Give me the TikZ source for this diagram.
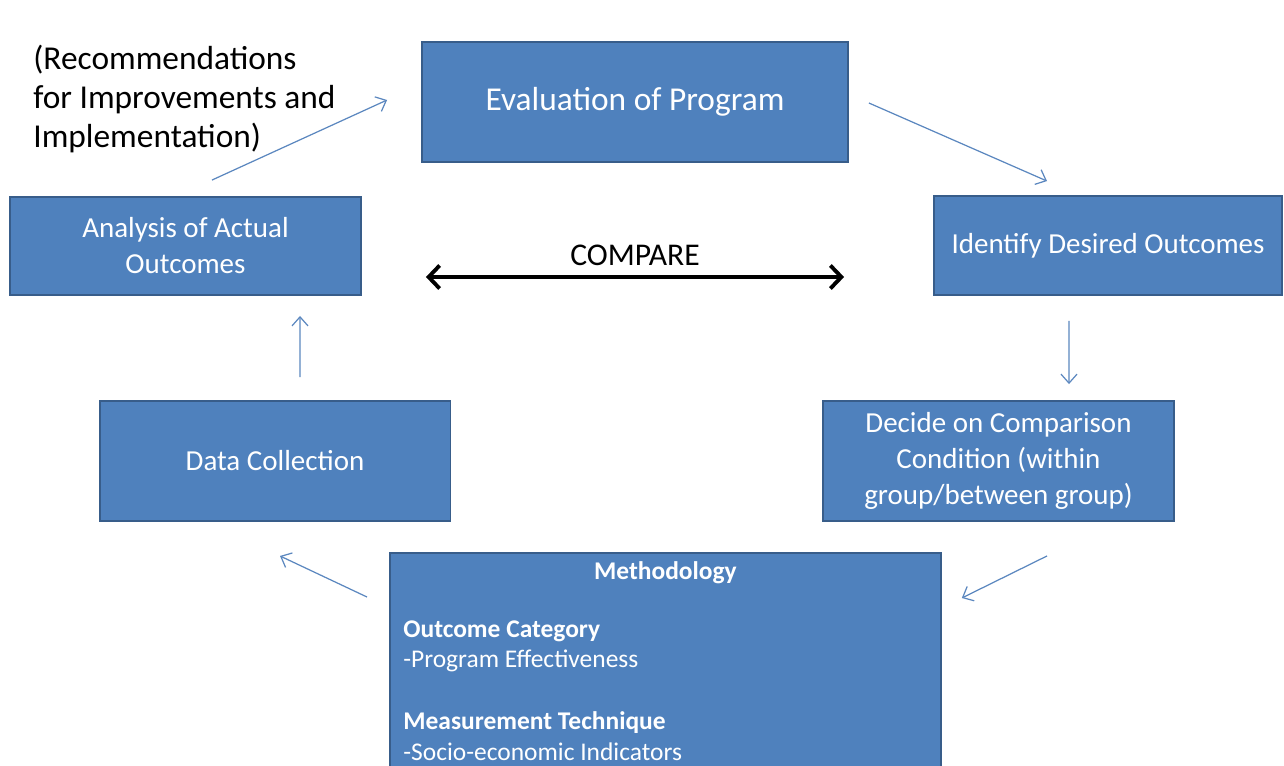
\documentclass[tikz,border=0pt]{standalone}
\usepackage{fontspec}
\setmainfont{Carlito}
\usetikzlibrary{arrows.meta,positioning}

\definecolor{boxblue}{HTML}{4F81BD}
\definecolor{boxedge}{HTML}{385D8A}
\definecolor{flowblue}{HTML}{5B87BF}

\tikzset{
  basic/.style   = {draw=boxedge, line width=1.1pt, fill=boxblue, text=white, rectangle, align=center, inner sep=0pt},
  stage/.style   = {basic, font=\fontsize{16.5}{20.5}\selectfont, minimum width=70.2mm, minimum height=24mm},
  note/.style    = {inner sep=0pt, align=left, font=\fontsize{19}{22}\selectfont},
  methtext/.style = {inner sep=0pt, align=left, text=white, font=\fontsize{14.5}{17.6}\selectfont},
  flow/.style    = {draw=flowblue, line width=0.7pt, -{Straight Barb[length=1.8mm,width=3.2mm]}},
  compare/.style = {draw=black, line width=2.2pt,
                    {Straight Barb[length=2.2mm,width=4.6mm]}-{Straight Barb[length=2.2mm,width=4.6mm]}}
}

\begin{document}
\begin{tikzpicture}[x=0.02cm, y=-0.02cm]
\clip (0,0) rectangle (1284,765);

% the cycle of stages
\node[stage, font=\fontsize{19}{23}\selectfont, minimum width=85.2mm] (eval) at (635,102) {Evaluation of Program};
\node[stage, minimum height=19.6mm] (anal) at (185.5,246) {Analysis of Actual\\Outcomes};
\node[stage, minimum width=69.6mm, minimum height=19.8mm] (ident) at (1108,245.5) {Identify Desired Outcomes};
\node[stage] (data) at (275,461) {Data Collection};
\node[stage] (decide) at (998.5,461) {Decide on Comparison\\Condition (within\\group/between group)};

% methodology box, runs off the bottom
\node[basic, anchor=north west, minimum width=110.2mm, minimum height=50mm] (meth) at (389,552) {};
\node[methtext, font=\bfseries\fontsize{14.5}{17.6}\selectfont, anchor=north] (methtitle) at ([yshift=-5]meth.north) {Methodology};
\node[methtext, anchor=north west] (methbody) at ([shift={(14,68)}]meth.north west)
  {\textbf{Outcome Category}\\-Program Effectiveness\\[17.6pt]\textbf{Measurement Technique}\\-Socio-economic Indicators};

\node[note, anchor=north west] (recom) at (33,45) {(Recommendations\\for Improvements and\\Implementation)};

% free ends of the thin arrows
\coordinate (a1) at ([shift={(26.5,-16)}]anal.north);
\coordinate (e1) at ([shift={(-34,-2)}]eval.west);
\coordinate (a2) at ([shift={(20,1)}]eval.east);
\coordinate (e2) at ([shift={(-61,-14)}]ident.north);
\coordinate (a3) at ([shift={(-39,25)}]ident.south);
\coordinate (e3) at ([shift={(70.5,-16)}]decide.north);
\coordinate (a4) at ([shift={(48.5,34)}]decide.south);
\coordinate (e4) at ([shift={(20,46)}]meth.north east);
\coordinate (a5) at ([shift={(-22,45)}]meth.north west);
\coordinate (e5) at ([shift={(5,34)}]data.south);
\coordinate (a6) at ([shift={(25,-23)}]data.north);
\coordinate (e6) at ([shift={(114.5,20)}]anal.south);

\foreach \value in {1,...,6}
  \draw[flow] (a\value) -- (e\value);

% compare arrow between the two outcome boxes
\coordinate (cmpL) at ([shift={(64,31)}]anal.east);
\coordinate (cmpR) at ([shift={(-89,31.5)}]ident.west);
\draw[compare] (cmpL) -- (cmpR);
\path (cmpL) -- (cmpR) node[midway, above=2.2mm, inner sep=0pt, font=\fontsize{18}{22}\selectfont] (cmp) {COMPARE};
\end{tikzpicture}
\end{document}
